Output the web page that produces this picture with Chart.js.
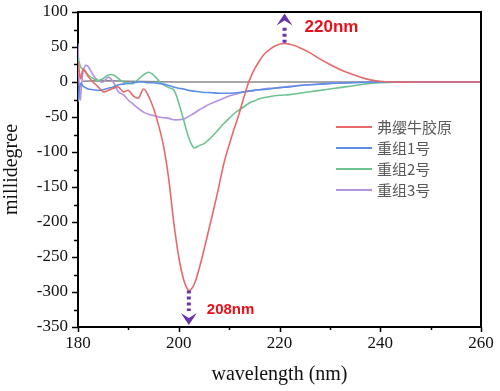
<!DOCTYPE html>
<html>
<head>
<meta charset="utf-8">
<script src="https://cdn.jsdelivr.net/npm/chart.js@4.4.0/dist/chart.umd.min.js"></script>
<style>
  html, body { margin: 0; padding: 0; background: #fff; }
  #wrap { width: 500px; height: 391px; }
</style>
</head>
<body>
<div id="wrap"><canvas id="cdChart"></canvas></div>
<script>
// CD 光谱 - 数据点读自原图 [波长 nm, 毫度]
const seriesNames = ["弗缨牛胶原", "重组1号", "重组2号", "重组3号"]

const collagen = [[180,30],[180.5,5],[181,18],[181.5,15],[182,8],[183,0],[184,-7],[185,-14],[186,-12],[187,-9],[188,-7],[189,-14],[190,-12],[191,-20],[192,-23],[193,-10],[194,-20],[195,-38],[196,-62],[197,-92],[198,-138],[199,-200],[200,-250],[201,-283],[202,-298],[203,-290],[204,-268],[205,-240],[206,-210],[207,-180],[208,-148],[209,-115],[210,-90],[211,-67],[212,-45],[213,-20],[214,2],[215,18],[216,30],[217,40],[218,46],[219,51],[220,54],[221,55],[222,54],[223,52],[224,49],[226,42],[228,33],[230,25],[232,18],[234,12],[236,7],[238,3],[240,1],[242,0],[250,0],[260,0]]

const recomb1 = [[180,-28],[180.5,-2],[181,-6],[182,-10],[183,-11],[184,-12],[185,-11],[186,-9],[187,-7],[188,-4],[189,-3],[190,-2],[191,-1],[192,0],[193,0],[194,-1],[195,-1],[196,-2],[197,-3],[198,-5],[199,-7],[200,-9],[201,-10],[202,-12],[203,-13],[204,-14],[205,-15],[206,-15],[208,-16],[210,-16],[212,-15],[214,-13],[216,-11],[218,-10],[220,-8],[222,-7],[224,-5],[226,-4],[228,-3],[230,-2],[234,-1],[240,0],[250,0],[260,0]]

const recomb2 = [[180,35],[180.5,22],[181,18],[182,10],[183,5],[184,2],[185,5],[186,10],[187,10],[188,5],[189,0],[190,-2],[191,-2],[192,4],[193,10],[194,14],[195,10],[196,2],[197,-4],[198,-8],[199,-11],[200,-30],[201,-55],[202,-80],[203,-94],[204,-91],[205,-88],[206,-82],[207,-75],[208,-67],[209,-59],[210,-52],[211,-45],[212,-40],[213,-35],[214,-30],[215,-27],[216,-24],[218,-21],[220,-19],[222,-18],[224,-16],[226,-14],[228,-12],[230,-10],[232,-8],[234,-6],[236,-4],[238,-2],[240,-1],[245,0],[260,0]]

const recomb3 = [[180,55],[180.4,-25],[181,15],[181.5,24],[182,22],[183,10],[184,2],[185,0],[186,7],[187,0],[188,-14],[189,-18],[190,-26],[191,-32],[192,-38],[193,-43],[194,-46],[195,-48],[196,-50],[197,-51],[198,-52],[199,-54],[200,-54],[201,-53],[202,-49],[203,-45],[204,-40],[205,-36],[206,-32],[207,-29],[208,-26],[209,-23],[210,-20],[211,-18],[212,-16],[213,-14],[214,-13],[216,-11],[218,-9],[220,-8],[222,-6],[224,-5],[226,-4],[228,-3],[230,-2],[234,-1],[240,0],[250,0],[260,0]]

const baseline = [[181,1],[185,2],[190,1],[200,0],[220,0],[240,0],[260,0]]

const colors = ["#e8696b", "#5b8ee6", "#6cc491", "#b591e3"]
const xTicks = [180, 200, 220, 240, 260]
const yTicks = [100, 50, 0, -50, -100, -150, -200, -250, -300, -350]

const toXY = (arr) => arr.map((p) => ({ x: p[0], y: p[1] }))

Chart.defaults.font.family = "'Liberation Serif', 'Times New Roman', serif"

const frameAndTicks = {
  id: "frameAndTicks",
  afterDraw(chart) {
    const c = chart.ctx
    const a = chart.chartArea
    const xs = chart.scales.x
    const ys = chart.scales.y
    c.save()
    c.strokeStyle = "#000"
    c.lineWidth = 2
    c.beginPath()
    c.moveTo(a.left, a.top)
    c.lineTo(a.right, a.top)
    c.lineTo(a.right, a.bottom)
    c.stroke()
    c.lineWidth = 1.5
    c.beginPath()
    for (let v = -350; v <= 100; v += 25) {
      const p = Math.round(ys.getPixelForValue(v)) + 0.5
      const len = v % 50 === 0 ? 6 : 4
      c.moveTo(a.left - len, p)
      c.lineTo(a.left, p)
    }
    for (let v = 180; v <= 260; v += 10) {
      const p = Math.round(xs.getPixelForValue(v)) + 0.5
      const len = v % 20 === 0 ? 5 : 3
      c.moveTo(p, a.bottom)
      c.lineTo(p, a.bottom + len)
    }
    c.stroke()
    c.restore()
  },
}

// 峰位箭头 + 标注
function drawArrow(c, x, yFrom, yTo, dir) {
  c.save()
  c.strokeStyle = "#6a35a8"
  c.fillStyle = "#6a35a8"
  c.lineWidth = 4
  c.setLineDash([3, 3])
  c.beginPath()
  c.moveTo(x, yFrom)
  c.lineTo(x, yTo)
  c.stroke()
  c.setLineDash([])
  // 箭头（V 形）
  const tip = yTo + dir * 14
  c.beginPath()
  c.moveTo(x, tip)
  c.lineTo(x - 8, tip - dir * 12)
  c.lineTo(x, tip - dir * 7)
  c.lineTo(x + 8, tip - dir * 12)
  c.closePath()
  c.fill()
  c.restore()
}

const peakMarks = {
  id: "peakMarks",
  afterDraw(chart) {
    const c = chart.ctx
    const xs = chart.scales.x
    const ys = chart.scales.y
    const xUp = xs.getPixelForValue(221)
    drawArrow(c, xUp, ys.getPixelForValue(56), ys.getPixelForValue(78), -1)
    const xDown = xs.getPixelForValue(202)
    drawArrow(c, xDown, ys.getPixelForValue(-298), ys.getPixelForValue(-327), 1)
    c.save()
    c.fillStyle = "#e8101a"
    c.font = "bold 17px 'Liberation Sans', Arial, sans-serif"
    c.textBaseline = "middle"
    c.fillText("220nm", xUp + 20, 27)
    c.font = "bold 15px 'Liberation Sans', Arial, sans-serif"
    c.fillText("208nm", xDown + 18, 310)
    c.restore()
  },
}

const insideLegend = {
  id: "insideLegend",
  afterDraw(chart) {
    const c = chart.ctx
    c.save()
    c.font = "15px 'Noto Sans CJK SC', sans-serif"
    c.textBaseline = "middle"
    chart.data.datasets.slice(0, 4).forEach((ds, i) => {
      const y = 127 + i * 21
      c.strokeStyle = ds.borderColor
      c.lineWidth = 2
      c.beginPath()
      c.moveTo(336, y)
      c.lineTo(372, y)
      c.stroke()
      c.fillStyle = "#5a5a5a"
      c.fillText(ds.label, 377, y)
    })
    c.restore()
  },
}

const series = [collagen, recomb1, recomb2, recomb3]
const allSets = series.map((s, i) => ({
  label: seriesNames[i],
  data: toXY(s),
  borderColor: colors[i],
  borderWidth: 1.6,
  pointRadius: 0,
  tension: 0.35,
  fill: false,
  order: i,
}))
// 灰色基线，放最下层
allSets.push({
  label: "baseline",
  data: toXY(baseline),
  borderColor: "#8a8a8a",
  borderWidth: 1.6,
  pointRadius: 0,
  tension: 0,
  order: 10,
})

const tickFont = { family: "'Liberation Serif', 'Times New Roman', serif", size: 17 }
const titleFont = { family: "'Liberation Serif', 'Times New Roman', serif", size: 20 }

new Chart(document.getElementById("cdChart"), {
  type: "line",
  data: { datasets: allSets },
  options: {
    responsive: true,
    maintainAspectRatio: false,
    animation: false,
    layout: { padding: { left: 0, top: 12, right: 19, bottom: 0 } },
    plugins: { legend: { display: false }, tooltip: { enabled: false } },
    scales: {
      x: {
        type: "linear",
        min: 180,
        max: 260,
        afterFit: (s) => { s.height = 64; s.paddingLeft = 0; s.paddingRight = 0 },
        afterBuildTicks: (s) => { s.ticks = xTicks.map((v) => ({ value: v })) },
        grid: { display: false, drawTicks: false },
        border: { display: true, color: "#000", width: 2 },
        ticks: { color: "#111", padding: 6, font: tickFont },
        title: { display: true, text: "wavelength (nm)", color: "#111", padding: { top: 0, bottom: 4 }, font: titleFont },
      },
      y: {
        min: -350,
        max: 100,
        afterFit: (s) => { s.width = 78; s.paddingTop = 0; s.paddingBottom = 0 },
        afterBuildTicks: (s) => { s.ticks = yTicks.map((v) => ({ value: v })) },
        grid: { display: false, drawTicks: false },
        border: { display: true, color: "#000", width: 2 },
        ticks: { color: "#111", padding: 10, font: tickFont },
        title: { display: true, text: "millidegree", color: "#111", padding: { top: 0, bottom: 0 }, font: titleFont },
      },
    },
  },
  plugins: [frameAndTicks, peakMarks, insideLegend],
})
</script>
</body>
</html>
